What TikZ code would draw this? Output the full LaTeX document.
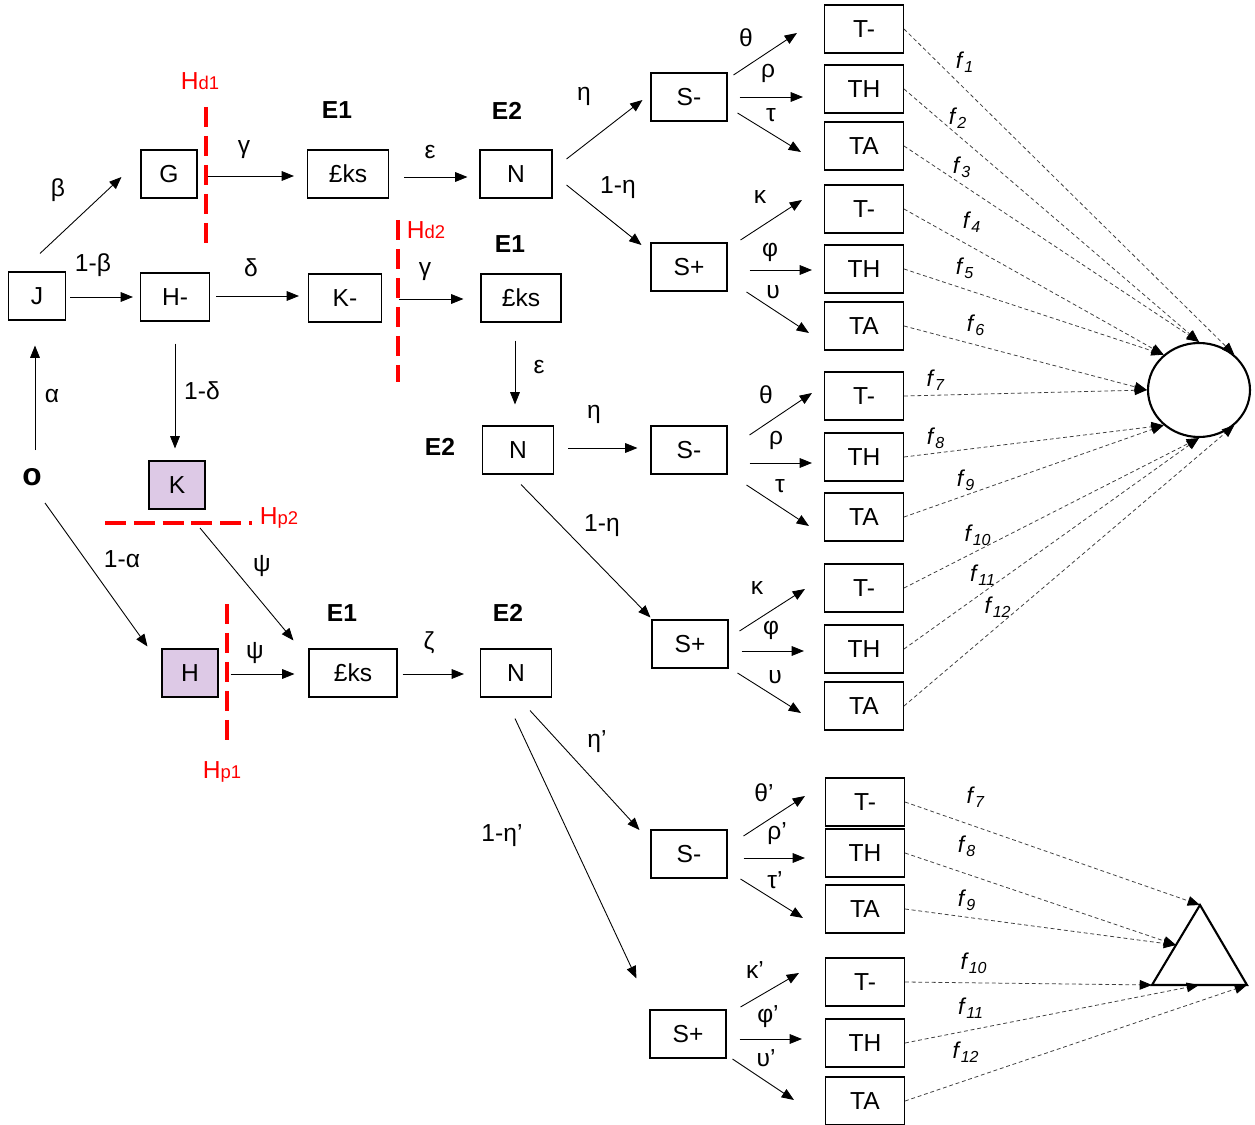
\documentclass[tikz,border=0pt]{standalone}
\usepackage{fontspec}
\setmainfont{Liberation Sans}
\usetikzlibrary{arrows.meta,shapes.geometric}
\definecolor{lilac}{RGB}{221,201,230}
\newcommand{\fl}[1]{\textit{f}\textsubscript{\textit{#1}}}
\newcommand{\hsub}[2]{#1{\fontsize{10.5}{12}\selectfont #2}}

\begin{document}
\begin{tikzpicture}[x=0.02cm, y=-0.02cm, font=\fontsize{14}{16}\selectfont]
            \tikzset{box/.style = {shape=rectangle, draw, line width=0.6pt, minimum height=0.96cm, inner sep=2pt}}
            \tikzset{sbox/.style = {box, minimum width=1.52cm}}
            \tikzset{tbox/.style = {box, minimum width=1.58cm}}
            \tikzset{arr/.style = {draw, line width=0.5pt, -{Triangle[length=7pt, width=5.5pt]}}}
            \tikzset{fline/.style = {draw=black!75, line width=0.45pt, dash pattern=on 2.2pt off 1.6pt, -{Triangle[length=7pt, width=5.5pt, color=black, fill=black]}}}
            \tikzset{hline/.style = {draw=red, line width=1.9pt, dash pattern=on 11.5pt off 5pt}}
            \tikzset{flab/.style = {font=\fontsize{13}{15}\selectfont}}
            \useasboundingbox (0,0) rectangle (1255,1125);
            % left part
            \node (O) at (32,477) {\fontsize{18}{19}\selectfont\textbf{o}};
            \node[box, minimum width=1.14cm] (J) at (37,296) {J};
            \node[box, minimum width=1.12cm] (G) at (169,174) {G};
            \node[box, minimum width=1.38cm] (Hm) at (175,297) {H-};
            \node[box, minimum width=1.46cm] (Km) at (345,298) {K-};
            \node[box, fill=lilac, minimum width=1.12cm] (K) at (177,485) {K};
            \node[box, fill=lilac, minimum width=1.12cm] (H) at (190,673) {H};
            % E1 and E2 boxes
            \node[box, minimum width=1.62cm] (E1a) at (348,174) {£ks};
            \node[box, minimum width=1.44cm] (N1) at (516,174) {N};
            \node[box, minimum width=1.60cm] (E1b) at (521,298) {£ks};
            \node[box, minimum width=1.42cm] (N2) at (518,450) {N};
            \node[box, minimum width=1.76cm] (E1c) at (353,673) {£ks};
            \node[box, minimum width=1.42cm] (N3) at (516,673) {N};
            \node (e1a) at (337,110) {\textbf{E1}};
            \node (e2a) at (507,111) {\textbf{E2}};
            \node (e1b) at (510,244) {\textbf{E1}};
            \node (e2b) at (440,447) {\textbf{E2}};
            \node (e1c) at (342,613) {\textbf{E1}};
            \node (e2c) at (508,613) {\textbf{E2}};
            % S boxes
            \node[sbox] (S1) at (689,97) {S-};
            \node[sbox] (S2) at (689,267) {S+};
            \node[sbox] (S3) at (689,450) {S-};
            \node[sbox] (S4) at (690,644) {S+};
            \node[sbox] (S5) at (689,854) {S-};
            \node[sbox] (S6) at (688,1034) {S+};
            % T boxes
            \node[tbox] (T1a) at (864,29) {T-};
            \node[tbox] (T1b) at (864,89) {TH};
            \node[tbox] (T1c) at (864,146) {TA};
            \node[tbox] (T2a) at (864,209) {T-};
            \node[tbox] (T2b) at (864,269) {TH};
            \node[tbox] (T2c) at (864,326) {TA};
            \node[tbox] (T3a) at (864,396) {T-};
            \node[tbox] (T3b) at (864,457) {TH};
            \node[tbox] (T3c) at (864,517) {TA};
            \node[tbox] (T4a) at (864,588) {T-};
            \node[tbox] (T4b) at (864,649) {TH};
            \node[tbox] (T4c) at (864,706) {TA};
            \node[tbox] (T5a) at (865,802) {T-};
            \node[tbox] (T5b) at (865,853) {TH};
            \node[tbox] (T5c) at (865,909) {TA};
            \node[tbox] (T6a) at (865,982) {T-};
            \node[tbox] (T6b) at (865,1043) {TH};
            \node[tbox] (T6c) at (865,1101) {TA};
            % outcomes
            \node[shape=ellipse, draw, line width=1.2pt, minimum width=2.04cm, minimum height=1.88cm] (circ) at (1199,390) {};
            \coordinate (tA) at (1200,905);
            \coordinate (tL) at (1152,985);
            \coordinate (tR) at (1247,985);
            \coordinate (tS) at (1176,945);
            \coordinate (tB) at (1199,985);
            \draw[line width=1.2pt, line join=miter] (tA) -- (tL) -- (tR) -- cycle;
            % thresholds
            \coordinate (hd1a) at (206,107);
            \coordinate (hd1b) at (206,243);
            \coordinate (hd2a) at (398,220);
            \coordinate (hd2b) at (398,382);
            \coordinate (hp2a) at (105,523);
            \coordinate (hp2b) at (252,523);
            \coordinate (hp1a) at (227,604);
            \coordinate (hp1b) at (227,742);
            \coordinate (hp2s) at (200,528);
            \draw[hline] (hd1a) -- (hd1b);
            \draw[hline] (hd2a) -- (hd2b);
            \draw[hline, dash pattern=on 11.9pt off 4.5pt] (hp2a) -- (hp2b);
            \draw[hline] (hp1a) -- (hp1b);
            \node[text=red] (hd1) at (200,81) {\hsub{H}{d1}};
            \node[text=red] (hd2) at (426,230) {\hsub{H}{d2}};
            \node[text=red] (hp2) at (279,518) {\hsub{H}{p2}};
            \node[text=red] (hp1) at (222,772) {\hsub{H}{p1}};
            % edges
            \draw[arr] ([shift={(3,-27)}]O.center) -- ([shift={(-2,25)}]J.south);
            \draw[arr] ([shift={(13,26)}]O.center) -- ([shift={(-14,-2)}]H.north west);
            \draw[arr] ([shift={(3,-18)}]J.north) -- ([shift={(-19,3)}]G.west);
            \draw[arr] ([shift={(4,1)}]J.east) -- ([shift={(-7,0)}]Hm.west);
            \draw[arr] ([shift={(10,2)}]G.east) -- ([shift={(-13,2)}]E1a.west);
            \draw[arr] ([shift={(6,-1)}]Hm.east) -- ([shift={(-9,-2)}]Km.west);
            \draw[arr] ([shift={(0,22)}]Hm.south) -- ([shift={(-2,-12)}]K.north);
            \draw[arr] ([shift={(15,3)}]E1a.east) -- ([shift={(-12,3)}]N1.west);
            \draw[arr] ([shift={(17,1)}]Km.east) -- ([shift={(-17,1)}]E1b.west);
            \draw[arr] ([shift={(-6,18)}]E1b.south) -- ([shift={(-3,-21)}]N2.north);
            \draw[arr] (hp2s) -- ([shift={(-15,-8)}]E1c.north west);
            \draw[arr] ([shift={(12,1)}]H.east) -- ([shift={(-14,1)}]E1c.west);
            \draw[arr] ([shift={(5,1)}]E1c.east) -- ([shift={(-16,1)}]N3.west);
            \draw[arr] ([shift={(14,-15)}]N1.east) -- ([shift={(-8,3)}]S1.west);
            \draw[arr] ([shift={(14,11)}]N1.east) -- ([shift={(-9,-22)}]S2.west);
            \draw[arr] ([shift={(14,-2)}]N2.east) -- ([shift={(-13,-2)}]S3.west);
            \draw[arr] ([shift={(3,10)}]N2.south) -- ([shift={(-1,-2)}]S4.north west);
            \draw[arr] ([shift={(14,13)}]N3.south) -- ([shift={(-11,-24)}]S5.west);
            \draw[arr] ([shift={(-1,21)}]N3.south) -- ([shift={(-13,-31)}]S6.north west);
            \draw[arr] ([shift={(6,-22)}]S1.east) -- ([shift={(-27,4)}]T1a.west);
            \draw[arr] ([shift={(12,0)}]S1.east) -- ([shift={(-21,8)}]T1b.west);
            \draw[arr] ([shift={(10,16)}]S1.east) -- ([shift={(-23,6)}]T1c.west);
            \draw[arr] ([shift={(13,-27)}]S2.east) -- ([shift={(-22,-9)}]T2a.west);
            \draw[arr] ([shift={(22,3)}]S2.east) -- ([shift={(-12,1)}]T2b.west);
            \draw[arr] ([shift={(19,25)}]S2.east) -- ([shift={(-15,7)}]T2c.west);
            \draw[arr] ([shift={(22,-15)}]S3.east) -- ([shift={(-12,-3)}]T3a.west);
            \draw[arr] ([shift={(22,13)}]S3.east) -- ([shift={(-12,6)}]T3b.west);
            \draw[arr] ([shift={(19,35)}]S3.east) -- ([shift={(-15,9)}]T3c.west);
            \draw[arr] ([shift={(11,-13)}]S4.east) -- ([shift={(-19,1)}]T4a.west);
            \draw[arr] ([shift={(13,7)}]S4.east) -- ([shift={(-20,2)}]T4b.west);
            \draw[arr] ([shift={(9,29)}]S4.east) -- ([shift={(-23,7)}]T4c.west);
            \draw[arr] ([shift={(16,-18)}]S5.east) -- ([shift={(-20,-6)}]T5a.west);
            \draw[arr] ([shift={(16,4)}]S5.east) -- ([shift={(-20,5)}]T5b.west);
            \draw[arr] ([shift={(13,25)}]S5.east) -- ([shift={(-22,9)}]T5c.west);
            \draw[arr] ([shift={(14,-27)}]S6.east) -- ([shift={(-26,-9)}]T6a.west);
            \draw[arr] ([shift={(13,5)}]S6.east) -- ([shift={(-23,-4)}]T6b.west);
            \draw[arr] ([shift={(6,25)}]S6.east) -- ([shift={(-31,-1)}]T6c.west);
            % edge labels
            \node (lalpha) at (52,396) {α};
            \node (lbeta) at (58,190) {β};
            \node (lbeta1) at (93,265) {1-β};
            \node (lalpha1) at (122,559) {1-α};
            \node (lgamma) at (244,150) {γ};
            \node (ldelta) at (251,268) {δ};
            \node (ldelta1) at (202,391) {1-δ};
            \node (leps) at (430,152) {ε};
            \node (lgamma2) at (425,272) {γ};
            \node (leps2) at (539,367) {ε};
            \node (lpsi) at (262,566) {ψ};
            \node (lpsi2) at (255,653) {ψ};
            \node (lzeta) at (429,643) {ζ};
            \node (leta) at (584,96) {η};
            \node (leta1) at (618,188) {1-η};
            \node (leta2) at (594,414) {η};
            \node (leta21) at (602,526) {1-η};
            \node (leta3) at (597,742) {η’};
            \node (leta31) at (502,836) {1-η’};
            \node (lth1) at (746,38) {θ};
            \node (lrho1) at (768,73) {ρ};
            \node (ltau1) at (771,115) {τ};
            \node (lka2) at (760,197) {κ};
            \node (lphi2) at (770,252) {φ};
            \node (lup2) at (773,292) {υ};
            \node (lth3) at (766,395) {θ};
            \node (lrho3) at (776,440) {ρ};
            \node (ltau3) at (780,486) {τ};
            \node (lka4) at (757,588) {κ};
            \node (lphi4) at (771,630) {φ};
            \node (lup4) at (775,677) {υ};
            \node (lth5) at (764,793) {θ’};
            \node (lrho5) at (777,834) {ρ’};
            \node (ltau5) at (775,880) {τ’};
            \node (lka6) at (755,970) {κ’};
            \node (lphi6) at (768,1017) {φ’};
            \node (lup6) at (766,1058) {υ’};
            % payoffs
            \draw[fline] (T1a.east) -- (circ.45);
            \draw[fline] (T1b.east) -- (circ.north);
            \draw[fline] (T1c.east) -- (circ.north);
            \draw[fline] (T2a.east) -- (circ.135);
            \draw[fline] (T2b.east) -- (circ.135);
            \draw[fline] (T2c.east) -- (circ.west);
            \draw[fline] (T3a.east) -- (circ.west);
            \draw[fline] (T3b.east) -- (circ.225);
            \draw[fline] (T3c.east) -- (circ.225);
            \draw[fline] (T4a.east) -- (circ.south);
            \draw[fline] (T4b.east) -- (circ.south);
            \draw[fline] (T4c.east) -- (circ.-45);
            \draw[fline] (T5a.east) -- (tA);
            \draw[fline] (T5b.east) -- (tS);
            \draw[fline] (T5c.east) -- (tS);
            \draw[fline] (T6a.east) -- (tL);
            \draw[fline] (T6b.east) -- (tB);
            \draw[fline] (T6c.east) -- (tR);
            \node[flab] (f1) at (965,62) {\fl{1}};
            \node[flab] (f2) at (958,118) {\fl{2}};
            \node[flab] (f3) at (962,167) {\fl{3}};
            \node[flab] (f4) at (972,222) {\fl{4}};
            \node[flab] (f5) at (965,268) {\fl{5}};
            \node[flab] (f6) at (976,325) {\fl{6}};
            \node[flab] (f7) at (936,380) {\fl{7}};
            \node[flab] (f8) at (936,438) {\fl{8}};
            \node[flab] (f9) at (966,480) {\fl{9}};
            \node[flab] (f10) at (978,535) {\fl{10}};
            \node[flab] (f11) at (983,575) {\fl{11}};
            \node[flab] (f12) at (998,607) {\fl{12}};
            \node[flab] (g7) at (976,797) {\fl{7}};
            \node[flab] (g8) at (967,846) {\fl{8}};
            \node[flab] (g9) at (967,900) {\fl{9}};
            \node[flab] (g10) at (974,963) {\fl{10}};
            \node[flab] (g11) at (971,1008) {\fl{11}};
            \node[flab] (g12) at (966,1052) {\fl{12}};
\end{tikzpicture}
\end{document}
